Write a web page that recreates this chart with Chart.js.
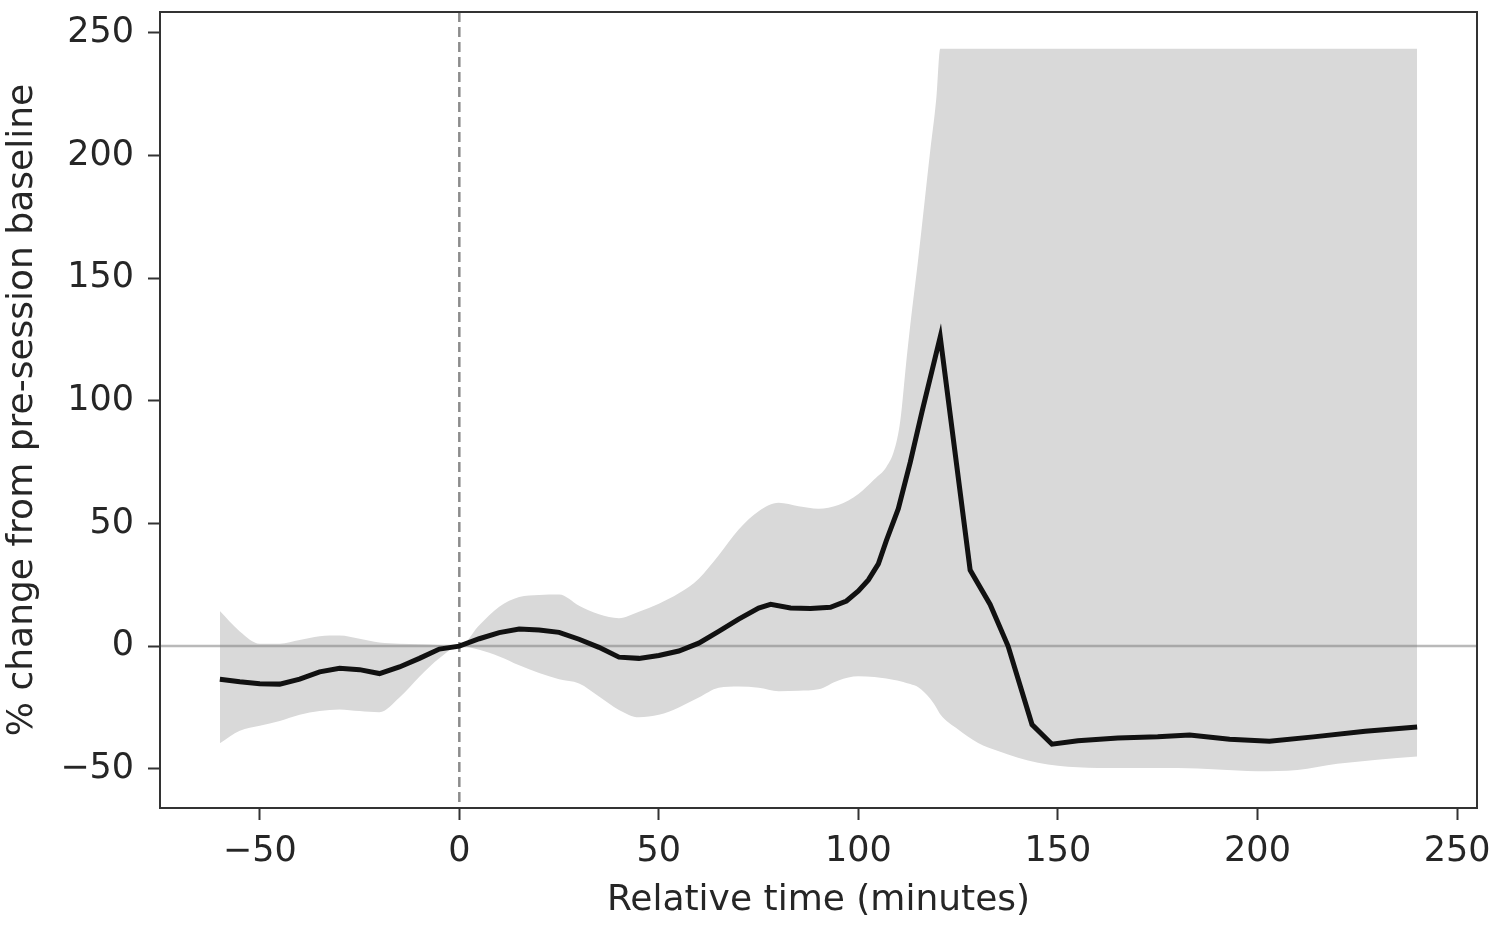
<!DOCTYPE html>
<html>
<head>
<meta charset="utf-8">
<script src="https://cdn.jsdelivr.net/npm/chart.js@4.4.1/dist/chart.umd.min.js"></script>
<style>
    body { margin: 0; background: #fff; }
    #wrap { width: 1500px; height: 926px; }
</style>
</head>
<body>
<div id="wrap"><canvas id="changeChart"></canvas></div>
<script>
// mean % change (black line)
const meanX = [-60, -55, -50, -45, -40, -35, -30, -25, -20, -15, -10, -5, 0, 5, 10, 15, 20, 25, 30, 35,
    40, 45, 50, 55, 60, 65, 70, 75, 78, 83, 88, 93, 97, 100, 102.5, 105, 107, 110, 113, 116, 120.5,
    128, 133, 137.5, 143.5, 148.5, 155, 165, 175, 183, 193, 203, 214, 227, 240];
const meanY = [-13.5, -14.5, -15.3, -15.5, -13.5, -10.5, -9, -9.6, -11.2, -8.5, -5, -1.2, 0, 3, 5.5, 7, 6.6, 5.6, 2.8, -0.5,
    -4.5, -5, -3.8, -2, 1.2, 6, 11, 15.5, 17, 15.5, 15.3, 15.8, 18.4, 22.5, 27, 33.5, 43, 56, 75, 96, 126,
    31, 17, 0, -32, -40, -38.6, -37.5, -37, -36.2, -38, -38.8, -37, -34.7, -33];

// confidence band (grey)
const bandX = [-60, -55, -50, -45, -40, -35, -30, -25, -20, -15, -10, -5, 0, 5, 10, 15, 20, 25, 30, 35,
    40, 45, 50, 55, 60, 65, 70, 75, 80, 85, 90, 95, 100, 104, 107, 109, 110.5, 112, 113, 115, 118, 119.5, 120.5,
    125, 130, 135, 140, 145, 150, 160, 170, 180, 190, 200, 210, 220, 230, 240];
const bandUpper = [14.3, 6, 1, 1, 2.5, 4, 4.3, 3, 1.5, 1, 0.8, 0.5, 0, 8.5, 16, 20, 20.8, 21, 16.5, 13,
    11.4, 14, 17.3, 21.5, 27.5, 37, 47.5, 55, 58.4, 57, 56, 57.5, 62, 68, 73, 80, 92, 116, 131, 158, 202, 223, 243.5,
    243.5, 243.5, 243.5, 243.5, 243.5, 243.5, 243.5, 243.5, 243.5, 243.5, 243.5, 243.5, 243.5, 243.5, 243.5];
const bandLower = [-39.6, -34.5, -32.5, -30.5, -28, -26.5, -25.8, -26.5, -27, -21, -12.5, -5, 0, -1.5, -4.2, -7.8, -11, -13.5, -15.2, -20.5,
    -26, -29, -28, -25, -21, -17, -16.5, -17, -18.4, -18.2, -17.6, -14, -12.3, -12.6, -13.2, -13.8, -14.3, -15, -15.5, -16.8, -21.5, -25, -27.8,
    -34, -39.5, -42.8, -45.5, -47.6, -48.8, -49.7, -49.7, -49.7, -50.3, -51, -50.5, -48, -46.3, -45];

const xTicks = [-50, 0, 50, 100, 150, 200, 250];
const yTicks = [-50, 0, 50, 100, 150, 200, 250];
const baselineY = 0;   // horizontal reference
const onsetX = 0;      // session start (dashed)

const toPts = (xs, ys) => xs.map((x, i) => ({ x: x, y: ys[i] }));
const minusFmt = v => String(v).replace('-', '\u2212');

const FONT = 'DejaVu Sans';
const TEXT = '#262626';
const AXIS = '#333333';

// 기준선 + 테두리
const refLines = {
    id: 'refLines',
    afterDatasetDraw(chart, args) {
        if (args.index !== 1) return;
        const { ctx, chartArea: a, scales: { x, y } } = chart;
        ctx.save();
        ctx.beginPath();
        ctx.rect(a.left, a.top, a.right - a.left, a.bottom - a.top);
        ctx.clip();
        const py = y.getPixelForValue(baselineY);
        ctx.strokeStyle = 'rgba(128,128,128,0.55)';
        ctx.lineWidth = 2.5;
        ctx.beginPath();
        ctx.moveTo(a.left, py);
        ctx.lineTo(a.right, py);
        ctx.stroke();
        const px = x.getPixelForValue(onsetX);
        ctx.strokeStyle = '#8c8c8c';
        ctx.setLineDash([10, 5]);
        ctx.beginPath();
        ctx.moveTo(px, a.top);
        ctx.lineTo(px, a.bottom);
        ctx.stroke();
        ctx.restore();
    },
    afterDraw(chart) {
        const { ctx, chartArea: a } = chart;
        ctx.save();
        ctx.strokeStyle = AXIS;
        ctx.lineWidth = 2;
        ctx.strokeRect(a.left, a.top, a.right - a.left, a.bottom - a.top);
        ctx.restore();
    }
};

const ctx = document.getElementById('changeChart').getContext('2d');
const changeChart = new Chart(ctx, {
    type: 'line',
    data: {
        datasets: [{
            label: 'mean',
            data: toPts(meanX, meanY),
            borderColor: '#111111',
            borderWidth: 5,
            pointRadius: 0,
            tension: 0,
            fill: false,
            order: 0,
        }, {
            label: 'upper',
            data: toPts(bandX, bandUpper),
            borderWidth: 0,
            borderColor: 'rgba(0,0,0,0)',
            backgroundColor: 'rgb(217,217,217)',
            pointRadius: 0,
            cubicInterpolationMode: 'monotone',
            fill: '+1',
            order: 1,
        }, {
            label: 'lower',
            data: toPts(bandX, bandLower),
            borderWidth: 0,
            borderColor: 'rgba(0,0,0,0)',
            pointRadius: 0,
            cubicInterpolationMode: 'monotone',
            fill: false,
            order: 2,
        }]
    },
    options: {
        responsive: true,
        maintainAspectRatio: false,
        animation: false,
        layout: { padding: { left: 0, top: 12, right: 23, bottom: 0 } },
        plugins: {
            legend: { display: false },
            tooltip: { enabled: false },
        },
        scales: {
            x: {
                type: 'linear',
                min: -75,
                max: 255,
                afterBuildTicks: s => { s.ticks = xTicks.map(v => ({ value: v })); },
                afterFit: s => { s.height = 118; s.paddingLeft = 0; s.paddingRight = 0; },
                grid: { drawOnChartArea: false, drawTicks: true, tickLength: 12, tickWidth: 2, tickColor: AXIS },
                border: { display: true, color: AXIS, width: 2 },
                ticks: { color: TEXT, padding: 11, maxRotation: 0, font: { family: FONT, size: 35 }, callback: minusFmt },
                title: {
                    display: true,
                    text: 'Relative time (minutes)',
                    color: TEXT,
                    font: { family: FONT, size: 36 },
                    padding: { top: 0, bottom: 4 },
                },
            },
            y: {
                type: 'linear',
                min: -66,
                max: 258.5,
                afterBuildTicks: s => { s.ticks = yTicks.map(v => ({ value: v })); },
                afterFit: s => { s.width = 160; s.paddingTop = 0; s.paddingBottom = 0; },
                grid: { drawOnChartArea: false, drawTicks: true, tickLength: 12, tickWidth: 2, tickColor: AXIS },
                border: { display: true, color: AXIS, width: 2 },
                ticks: { color: TEXT, padding: 14, font: { family: FONT, size: 35 }, callback: minusFmt },
                title: {
                    display: true,
                    text: '% change from pre-session baseline',
                    color: TEXT,
                    font: { family: FONT, size: 36 },
                    padding: { top: 1, bottom: 0 },
                },
            },
        },
    },
    plugins: [refLines],
});
</script>
</body>
</html>
